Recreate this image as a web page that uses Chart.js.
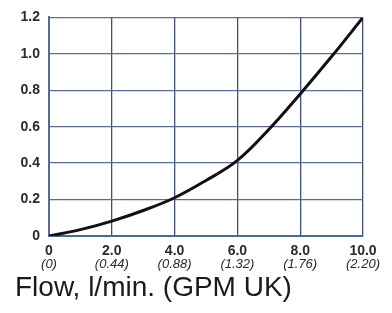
<!DOCTYPE html>
<html>
<head>
<meta charset="utf-8">
<script src="https://cdn.jsdelivr.net/npm/chart.js@4/dist/chart.umd.min.js"></script>
<style>
html,body{margin:0;padding:0;background:#fff;}
#wrap{width:392px;height:313px;position:relative;}
</style>
</head>
<body>
<div id="wrap"><canvas id="c" width="392" height="313"></canvas></div>
<script>
// Data
const flowLpm = [0, 1, 2, 3, 4, 5, 6, 7, 8, 9, 10];
const pressure = [0, 0.035, 0.082, 0.14, 0.21, 0.305, 0.415, 0.585, 0.78, 0.985, 1.2];
const xTickValues = [0, 2, 4, 6, 8, 10];
const xTickLabels = ['0', '2.0', '4.0', '6.0', '8.0', '10.0'];
const gpmTickLabels = ['(0)', '(0.44)', '(0.88)', '(1.32)', '(1.76)', '(2.20)'];
const yTickLabels = ['0', '0.2', '0.4', '0.6', '0.8', '1.0', '1.2'];
const axisTitle = 'Flow, l/min. (GPM UK)';

const points = flowLpm.map((x, i) => ({x: x, y: pressure[i]}));
const FONT = "'Liberation Sans', Arial, sans-serif";

new Chart(document.getElementById('c'), {
  type: 'line',
  data: {
    datasets: [{
      data: points,
      borderColor: '#111111',
      borderWidth: 3,
      pointRadius: 0,
      tension: 0.4,
      fill: false
    }]
  },
  options: {
    responsive: false,
    animation: false,
    events: [],
    layout: {padding: {left: 15, right: 29, top: 16, bottom: 0}},
    plugins: {
      legend: {display: false},
      tooltip: {enabled: false},
      title: {
        display: true,
        text: axisTitle,
        position: 'bottom',
        align: 'start',
        color: '#1a1a1a',
        font: {family: FONT, size: 28, weight: 'normal', lineHeight: 1},
        padding: {top: 2, bottom: 11}
      }
    },
    scales: {
      x: {
        type: 'linear',
        min: 0, max: 10,
        position: 'bottom',
        afterBuildTicks: (s) => { s.ticks = xTickValues.map(v => ({value: v})); },
        afterFit: (s) => { s.height = 20; },
        ticks: {
          callback: (v) => xTickLabels[xTickValues.indexOf(v)],
          color: '#2a2a2a',
          font: {family: FONT, size: 14, weight: 'bold', lineHeight: 1},
          padding: 8,
          maxRotation: 0,
          autoSkip: false
        },
        grid: {color: '#3f5078', lineWidth: 1.3, drawTicks: false},
        border: {color: '#4a6a9a', width: 2}
      },
      x2: {
        type: 'linear',
        min: 0, max: 10,
        position: 'bottom',
        afterBuildTicks: (s) => { s.ticks = xTickValues.map(v => ({value: v})); },
        afterFit: (s) => { s.height = 16; },
        ticks: {
          callback: (v) => gpmTickLabels[xTickValues.indexOf(v)],
          color: '#2a2a2a',
          font: {family: FONT, size: 13, style: 'italic', lineHeight: 1},
          padding: 2,
          maxRotation: 0,
          autoSkip: false
        },
        grid: {display: false, drawTicks: false},
        border: {display: false}
      },
      y: {
        type: 'linear',
        min: 0, max: 1.2,
        afterBuildTicks: (s) => { s.ticks = yTickLabels.map(t => ({value: parseFloat(t)})); },
        afterFit: (s) => { s.width = 34; },
        ticks: {
          callback: (v, i) => yTickLabels[i],
          color: '#2a2a2a',
          font: {family: FONT, size: 14, weight: 'bold'},
          padding: 9
        },
        grid: {color: '#5a6c9c', lineWidth: 1.3, drawTicks: false},
        border: {color: '#5a6c8c', width: 2}
      }
    }
  }
});
</script>
</body>
</html>
